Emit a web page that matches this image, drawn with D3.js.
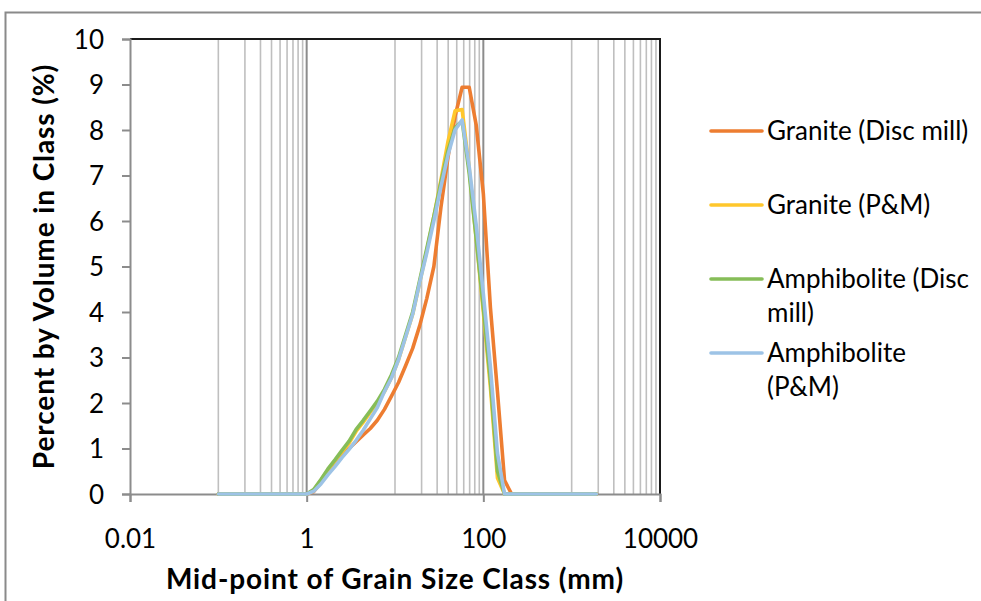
<!DOCTYPE html>
<html>
<head>
<meta charset="utf-8">
<script src="https://cdn.jsdelivr.net/npm/d3@7"></script>
<style>
  html, body { margin: 0; padding: 0; background: #ffffff; }
  svg { display: block; font-family: "Lato", "Open Sans", sans-serif; }
</style>
</head>
<body>
<svg id="chart" width="981" height="601"></svg>
<script>
// Class mid-points (mm), shared by every series
const sizes = [0.1, 0.11, 0.132, 0.158, 0.191, 0.229, 0.275, 0.331, 0.398, 0.479, 0.575, 0.692, 0.832,
  1.0, 1.2, 1.45, 1.74, 2.09, 2.51, 3.02, 3.63, 4.37, 5.25, 6.31, 7.59, 9.12, 10.96, 13.18, 15.85,
  19.05, 22.91, 27.54, 33.11, 39.81, 47.86, 57.54, 69.18, 83.18, 100, 120.2, 144.5, 173.8,
  208.9, 251.2, 302, 363.1, 436.5, 524.8, 631, 758.6, 912, 1096, 1318, 1585, 1905];

// Percent by volume in each class
const graniteDisc = [0, 0, 0, 0, 0, 0, 0, 0, 0, 0, 0, 0, 0,
  0, 0.05, 0.25, 0.45, 0.64, 0.82, 1.0, 1.15, 1.3, 1.44, 1.62, 1.86, 2.15, 2.45, 2.82, 3.2,
  3.7, 4.3, 5.0, 6.3, 7.4, 8.3, 8.94, 8.94, 8.1, 6.6, 4.1, 2.25, 0.3,
  0, 0, 0, 0, 0, 0, 0, 0, 0, 0, 0, 0, 0];
const granitePM = [0, 0, 0, 0, 0, 0, 0, 0, 0, 0, 0, 0, 0,
  0, 0.08, 0.3, 0.53, 0.73, 0.92, 1.12, 1.38, 1.58, 1.8, 2.0, 2.25, 2.56, 2.95, 3.45, 3.95,
  4.65, 5.35, 6.1, 6.9, 7.75, 8.42, 8.45, 7.15, 5.6, 4.0, 2.35, 0.35, 0,
  0, 0, 0, 0, 0, 0, 0, 0, 0, 0, 0, 0, 0];
const amphDisc = [0, 0, 0, 0, 0, 0, 0, 0, 0, 0, 0, 0, 0,
  0, 0.1, 0.32, 0.55, 0.75, 0.96, 1.16, 1.42, 1.62, 1.83, 2.04, 2.3, 2.62, 3.0, 3.5, 4.0,
  4.7, 5.4, 6.1, 6.85, 7.55, 8.05, 8.2, 7.05, 5.6, 4.1, 2.5, 0.5, 0,
  0, 0, 0, 0, 0, 0, 0, 0, 0, 0, 0, 0, 0];
const amphPM = [0, 0, 0, 0, 0, 0, 0, 0, 0, 0, 0, 0, 0,
  0, 0.06, 0.22, 0.42, 0.6, 0.8, 0.98, 1.18, 1.4, 1.65, 1.9, 2.25, 2.55, 2.95, 3.45, 3.95,
  4.65, 5.3, 6.0, 6.75, 7.45, 8.0, 8.22, 7.2, 5.9, 4.4, 2.8, 0.9, 0,
  0, 0, 0, 0, 0, 0, 0, 0, 0, 0, 0, 0, 0];

const seriesNames = ["Granite (Disc mill)", "Granite (P&M)", "Amphibolite (Disc mill)", "Amphibolite (P&M)"];
const seriesColors = ["#ED7D31", "#FFC72C", "#86BD58", "#9DC3E6"];
const seriesValues = [graniteDisc, granitePM, amphDisc, amphPM];

// Axis ticks
const xLabelTicks = [0.01, 1, 100, 10000];
const xMajorGrid = [1, 100];
const xMinorGrid = [0.1, 0.2, 0.3, 0.4, 0.5, 0.6, 0.7, 0.8, 0.9,
  10, 20, 30, 40, 50, 60, 70, 80, 90,
  1000, 2000, 3000, 4000, 5000, 6000, 7000, 8000, 9000];
const yTicks = [0, 1, 2, 3, 4, 5, 6, 7, 8, 9, 10];

const svg = d3.select("#chart");
const W = 981, H = 601;
const plot = { left: 130, right: 660, top: 39, bottom: 494 };

const x = d3.scaleLog().domain([0.01, 10000]).range([plot.left, plot.right]);
const y = d3.scaleLinear().domain([0, 10]).range([plot.bottom, plot.top]);

// Chart frame
svg.append("rect")
  .attr("x", 5.5).attr("y", 12.5)
  .attr("width", W + 20).attr("height", H + 20)
  .attr("fill", "#ffffff")
  .attr("stroke", "#8a8a8a").attr("stroke-width", 2);

// Vertical gridlines
const grid = svg.append("g");
grid.selectAll("line.minor").data(xMinorGrid).join("line")
  .attr("class", "minor")
  .attr("x1", d => x(d)).attr("x2", d => x(d))
  .attr("y1", plot.top).attr("y2", plot.bottom)
  .attr("stroke", "#bfbfbf").attr("stroke-width", 1.6);
grid.selectAll("line.major").data(xMajorGrid).join("line")
  .attr("class", "major")
  .attr("x1", d => x(d)).attr("x2", d => x(d))
  .attr("y1", plot.top).attr("y2", plot.bottom)
  .attr("stroke", "#8c8c8c").attr("stroke-width", 2);

// Plot-area border (top and right edges)
svg.append("path")
  .attr("d", `M${plot.left},${plot.top}H${plot.right}V${plot.bottom}`)
  .attr("fill", "none").attr("stroke", "#1a1a1a").attr("stroke-width", 2);

// Y axis
const yAxis = d3.axisLeft(y).tickValues(yTicks).tickSize(8).tickPadding(18).tickFormat(d3.format("d"));
const gy = svg.append("g").attr("transform", `translate(${plot.left},0)`).call(yAxis);
gy.select(".domain").attr("stroke", "#8c8c8c").attr("stroke-width", 2);
gy.selectAll(".tick line").attr("stroke", "#8c8c8c").attr("stroke-width", 2);
gy.selectAll(".tick text")
  .attr("fill", "#000").attr("font-size", 26).attr("font-family", "Lato, sans-serif")
  .attr("dy", "0.35em");

// X axis
const xAxis = d3.axisBottom(x).tickValues(xLabelTicks).tickSize(8).tickPadding(28)
  .tickFormat(d => String(d));
const gx = svg.append("g").attr("transform", `translate(0,${plot.bottom})`).call(xAxis);
gx.select(".domain").attr("stroke", "#8c8c8c").attr("stroke-width", 2);
gx.selectAll(".tick line").attr("stroke", "#8c8c8c").attr("stroke-width", 2);
gx.selectAll(".tick text")
  .attr("fill", "#000").attr("font-size", 26).attr("font-family", "Lato, sans-serif");

// Data lines
const line = d3.line()
  .x(d => x(d[0]))
  .y(d => y(d[1]));
svg.append("g").selectAll("path").data(seriesValues).join("path")
  .attr("d", vals => line(sizes.map((s, i) => [s, vals[i]])))
  .attr("fill", "none")
  .attr("stroke", (d, i) => seriesColors[i])
  .attr("stroke-width", 3.6)
  .attr("stroke-linejoin", "round")
  .attr("stroke-linecap", "round");

// Axis titles
svg.append("text")
  .attr("x", (plot.left + plot.right) / 2).attr("y", 589)
  .attr("text-anchor", "middle")
  .attr("font-size", 28).attr("font-weight", "bold")
  .attr("letter-spacing", 0.9)
  .text("Mid-point of Grain Size Class (mm)");
svg.append("text")
  .attr("transform", `translate(54,${(plot.top + plot.bottom) / 2}) rotate(-90)`)
  .attr("text-anchor", "middle")
  .attr("font-size", 28).attr("font-weight", "bold")
  .attr("letter-spacing", 0.9)
  .text("Percent by Volume in Class (%)");

// Legend
const legendRows = [
  { lines: ["Granite (Disc mill)"], y: 131 },
  { lines: ["Granite (P&M)"], y: 205 },
  { lines: ["Amphibolite (Disc", "mill)"], y: 279 },
  { lines: ["Amphibolite", "(P&M)"], y: 353 }
];
const legend = svg.append("g");
legendRows.forEach((row, i) => {
  legend.append("line")
    .attr("x1", 711).attr("x2", 762)
    .attr("y1", row.y).attr("y2", row.y)
    .attr("stroke", seriesColors[i]).attr("stroke-width", 3.6)
    .attr("stroke-linecap", "round");
  row.lines.forEach((t, j) => {
    legend.append("text")
      .attr("x", 767).attr("y", row.y + j * 34)
      .attr("dy", "0.35em")
      .attr("font-size", 26)
      .text(t);
  });
});
</script>
</body>
</html>
